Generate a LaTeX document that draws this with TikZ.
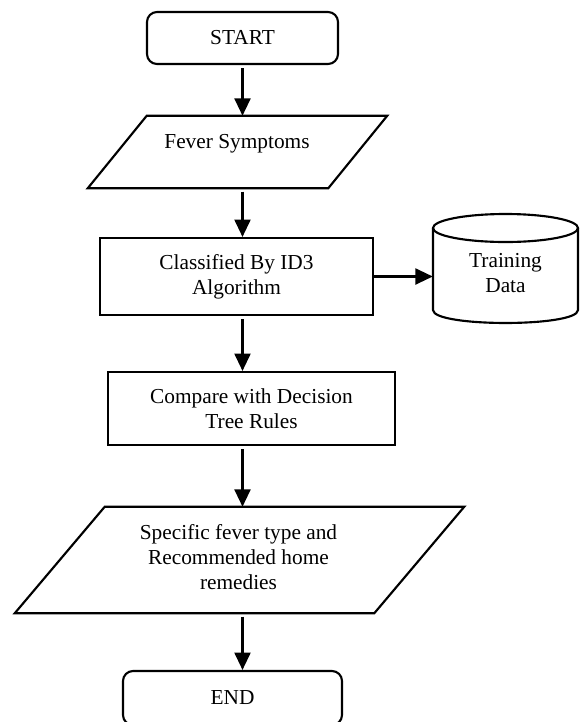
\documentclass[tikz,border=0pt]{standalone}
\usepackage{fontspec}
\setmainfont{Liberation Serif}
\usetikzlibrary{arrows.meta,calc}
\begin{document}
\begin{tikzpicture}[x=0.75pt,y=-0.75pt,
  every node/.style={font=\fontsize{16}{18.75}\selectfont, align=center, inner sep=0pt},
  flow/.style={line width=1.6pt, line join=miter},
  conn/.style={line width=1.6pt, shorten <=2.5pt, -{Triangle[length=13pt,width=12pt]}},
  procbox/.style={draw, line width=1.6pt, rectangle},
  termbox/.style={procbox, rounded corners=7.5pt},
  area/.style={rectangle}]
\useasboundingbox (0,0) rectangle (580,722);

% terminals and processes
\node[termbox, minimum width=143.25pt, minimum height=39pt] (start) at (242.5,38) {START};
\node[procbox, minimum width=204.75pt, minimum height=57.75pt] (classify) at (236.5,276.5) {Classified By ID3\\Algorithm};
\node[procbox, minimum width=215.25pt, minimum height=54.75pt] (compare) at (251.5,408.5) {Compare with Decision\\Tree Rules};
\node[termbox, minimum width=164.25pt, minimum height=40.5pt] (finish) at (232.5,698) {END};

% input/output parallelograms
\node[area, minimum width=224.25pt, minimum height=54pt] (fever) at (237.5,152) {};
\node (fevertext) at (237,144) {Fever Symptoms};
\draw[flow] ($(fever.north west)+(59,0)$) -- (fever.north east) -- ($(fever.south east)-(59,0)$) -- (fever.south west) -- cycle;

\node[area, minimum width=336.75pt, minimum height=79.5pt] (result) at (239.5,560) {};
\node (resulttext) at (238.5,557) {Specific fever type and\\Recommended home\\remedies};
\draw[flow] ($(result.north west)+(90,0)$) -- (result.north east) -- ($(result.south east)-(90,0)$) -- (result.south west) -- cycle;

% database cylinder
\node[area, minimum width=108.75pt, minimum height=81.75pt] (train) at (505.5,273.5) {Training\\Data};
\draw[flow] (505.5,228) ellipse [x radius=72.5, y radius=14];
\draw[flow] (433,228) -- (433,310) .. controls (433,327.3) and (578,327.3) .. (578,310) -- (578,228);

% connectors
\draw[conn] (start) -- (start |- fever.north);
\draw[conn] (start |- fever.south) -- (start |- classify.north);
\draw[conn, shorten <=0pt] (classify.east) -- (classify.east -| train.west);
\draw[conn] (start |- classify.south) -- (start |- compare.north);
\draw[conn] (start |- compare.south) -- (start |- result.north);
\draw[conn] (start |- result.south) -- (start |- finish.north);
\end{tikzpicture}
\end{document}
